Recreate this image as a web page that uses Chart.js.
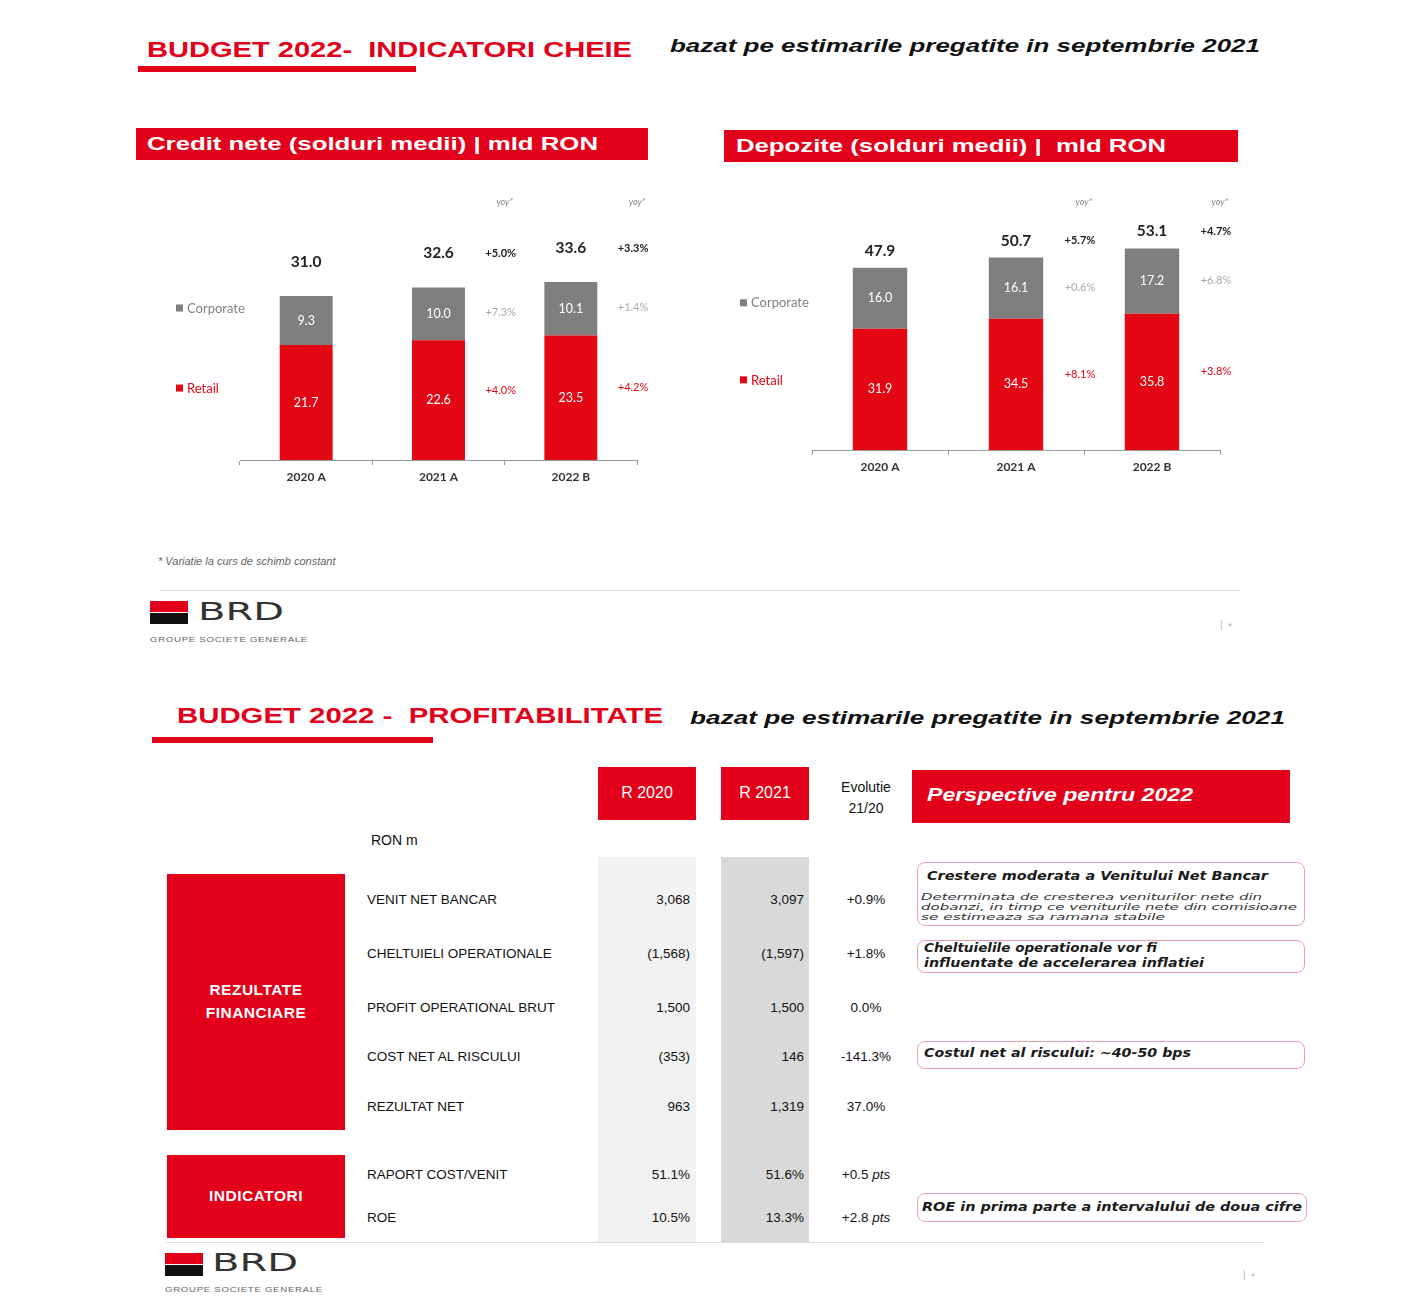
<!DOCTYPE html>
<html lang="ro">
<head>
<meta charset="UTF-8">
<title>Budget 2022 - BRD</title>
<style>
    body {
        margin: 0;
        width: 1410px;
        height: 1308px;
        position: relative;
        overflow: hidden;
        background: #fff;
        font-family: 'Liberation Sans', Arial, sans-serif;
    }
    .t {
        position: absolute;
        white-space: nowrap;
        line-height: 20px;
        height: 20px;
    }
    .title {
        color: #e2001a;
        font-weight: bold;
        font-size: 22px;
    }
    .subtitle {
        color: #111;
        font-weight: bold;
        font-style: italic;
        font-size: 19px;
    }
    .bar {
        position: absolute;
        background: #e2001a;
    }
    .hbox-text {
        color: #fff;
        font-weight: bold;
        font-size: 19px;
    }
    .line {
        position: absolute;
        height: 1px;
        background: #ddd;
    }
    .logo {
        position: absolute;
        width: 38px;
        height: 23px;
        background: linear-gradient(#e2001a 0 46%, #fff 46% 54%, #111 54% 100%);
    }
    .brd {
        color: #333;
        font-family: 'DejaVu Sans', sans-serif;
        font-size: 25px;
        line-height: 28px;
        height: 28px;
    }
    .sg {
        color: #666;
        font-size: 7px;
        line-height: 10px;
        height: 10px;
        letter-spacing: 0.5px;
    }
    .pg {
        color: #bbb;
        font-size: 10px;
    }
    canvas {
        position: absolute;
    }
    .col {
        position: absolute;
    }
    .rowlabel {
        color: #111;
        font-size: 13.5px;
        left: 367px;
    }
    .num {
        color: #111;
        font-size: 13.5px;
        text-align: right;
    }
    .evo {
        color: #111;
        font-size: 13.5px;
        text-align: center;
        width: 90px;
        left: 821px;
    }
    .box {
        position: absolute;
        border: 1px solid #e9a0a8;
        border-radius: 8px;
        box-sizing: border-box;
        background: #fff;
    }
    .pbold {
        font-family: 'DejaVu Sans', sans-serif;
        font-weight: bold;
        font-style: italic;
        font-size: 11.5px;
        color: #1a1a1a;
    }
    .pnorm {
        font-family: 'DejaVu Sans', sans-serif;
        font-style: italic;
        font-size: 9.5px;
        color: #333;
        line-height: 10px;
        height: 10px;
    }
</style>
</head>
<body>
    <!-- slide 1 -->
    <div class="t title" style="left:147px; top:40px;" data-w="485">BUDGET 2022-&nbsp; INDICATORI CHEIE</div>
    <div class="bar" style="left:138px; top:66px; width:278px; height:6px;"></div>
    <div class="t subtitle" style="left:670px; top:36px;" data-w="590">bazat pe estimarile pregatite in septembrie 2021</div>

    <div class="bar" style="left:136px; top:128px; width:512px; height:32px;"></div>
    <div class="t hbox-text" style="left:147px; top:134px;" data-w="451">Credit nete (solduri medii) | mld RON</div>
    <div class="bar" style="left:724px; top:130px; width:514px; height:32px;"></div>
    <div class="t hbox-text" style="left:736px; top:136px;" data-w="430">Depozite (solduri medii) |&nbsp; mld RON</div>

    <canvas id="creditChart" width="500" height="300" style="left:160px; top:190px;"></canvas>
    <canvas id="depositChart" width="520" height="300" style="left:730px; top:180px;"></canvas>

    <div class="t" style="left:158px; top:551px; font-size:11px; font-style:italic; color:#666;">* Variatie la curs de schimb constant</div>
    <div class="line" style="left:160px; top:590px; width:1080px;"></div>
    <div class="logo" style="left:150px; top:601px;"></div>
    <div class="t brd" style="left:198px; top:598px;" data-w="86">BRD</div>
    <div class="t sg" style="left:150px; top:635px;" data-w="158">GROUPE SOCIETE GENERALE</div>
    <div class="t pg" style="left:1220px; top:615px;">|&nbsp; ▪</div>

    <!-- slide 2 -->
    <div class="t title" style="left:177px; top:706px;" data-w="486">BUDGET 2022 -&nbsp; PROFITABILITATE</div>
    <div class="bar" style="left:152px; top:737px; width:281px; height:6px;"></div>
    <div class="t subtitle" style="left:690px; top:708px;" data-w="595">bazat pe estimarile pregatite in septembrie 2021</div>

    <div class="col" style="left:598px; top:857px; width:98px; height:385px; background:#f2f2f2;"></div>
    <div class="col" style="left:721px; top:857px; width:88px; height:385px; background:#d9d9d9;"></div>

    <div class="bar" style="left:598px; top:767px; width:98px; height:53px;"></div>
    <div class="t" style="left:598px; top:783px; width:98px; text-align:center; color:#fff; font-size:16px;">R 2020</div>
    <div class="bar" style="left:721px; top:767px; width:88px; height:53px;"></div>
    <div class="t" style="left:721px; top:783px; width:88px; text-align:center; color:#fff; font-size:16px;">R 2021</div>
    <div class="t" style="left:821px; top:777px; width:90px; text-align:center; color:#111; font-size:14px;">Evolutie</div>
    <div class="t" style="left:821px; top:798px; width:90px; text-align:center; color:#111; font-size:14px;">21/20</div>
    <div class="bar" style="left:912px; top:770px; width:378px; height:53px;"></div>
    <div class="t" style="left:927px; top:785px; color:#fff; font-weight:bold; font-style:italic; font-size:19px;" data-w="266">Perspective pentru 2022</div>

    <div class="t" style="left:371px; top:830px; color:#111; font-size:14px;">RON m</div>

    <div class="bar" style="left:167px; top:874px; width:178px; height:256px;"></div>
    <div class="t" style="left:167px; top:980px; width:178px; text-align:center; color:#fff; font-weight:bold; font-size:15.5px; letter-spacing:0.5px;">REZULTATE</div>
    <div class="t" style="left:167px; top:1003px; width:178px; text-align:center; color:#fff; font-weight:bold; font-size:15.5px; letter-spacing:0.5px;">FINANCIARE</div>
    <div class="bar" style="left:167px; top:1155px; width:178px; height:83px;"></div>
    <div class="t" style="left:167px; top:1186px; width:178px; text-align:center; color:#fff; font-weight:bold; font-size:15.5px; letter-spacing:0.5px;">INDICATORI</div>

    <div id="rows"></div>

    <div class="box" style="left:917px; top:862px; width:388px; height:64px;"></div>
    <div class="t pbold" style="left:927px; top:866px;" data-w="341">Crestere moderata a Venitului Net Bancar</div>
    <div class="t pnorm" style="left:921px; top:892px;" data-w="341">Determinata de cresterea veniturilor nete din</div>
    <div class="t pnorm" style="left:921px; top:902px;" data-w="376">dobanzi, in timp ce veniturile nete din comisioane</div>
    <div class="t pnorm" style="left:921px; top:912px;" data-w="244">se estimeaza sa ramana stabile</div>

    <div class="box" style="left:917px; top:940px; width:388px; height:33px;"></div>
    <div class="t pbold" style="left:924px; top:938px;" data-w="233">Cheltuielile operationale vor fi</div>
    <div class="t pbold" style="left:924px; top:953px;" data-w="280">influentate de accelerarea inflatiei</div>

    <div class="box" style="left:917px; top:1041px; width:388px; height:28px;"></div>
    <div class="t pbold" style="left:924px; top:1043px;" data-w="267">Costul net al riscului: ~40-50 bps</div>

    <div class="box" style="left:917px; top:1193px; width:390px; height:29px;"></div>
    <div class="t pbold" style="left:922px; top:1197px;" data-w="380">ROE in prima parte a intervalului de doua cifre</div>

    <div class="line" style="left:166px; top:1242px; width:1099px;"></div>
    <div class="logo" style="left:165px; top:1253px;"></div>
    <div class="t brd" style="left:212px; top:1249px;" data-w="86">BRD</div>
    <div class="t sg" style="left:165px; top:1285px;" data-w="158">GROUPE SOCIETE GENERALE</div>
    <div class="t pg" style="left:1243px; top:1265px;">|&nbsp; ▪</div>

    <script src="https://cdn.jsdelivr.net/npm/chart.js"></script>
    <script>
        // --- date grafic ---
        const categories = ['2020 A', '2021 A', '2022 B'];

        const creditRetail = [21.7, 22.6, 23.5];
        const creditCorporate = [9.3, 10.0, 10.1];
        const creditTotal = [31.0, 32.6, 33.6];
        const creditGrowthTotal = [null, '+5.0%', '+3.3%'];
        const creditGrowthCorporate = [null, '+7.3%', '+1.4%'];
        const creditGrowthRetail = [null, '+4.0%', '+4.2%'];

        const depositRetail = [31.9, 34.5, 35.8];
        const depositCorporate = [16.0, 16.1, 17.2];
        const depositTotal = [47.9, 50.7, 53.1];
        const depositGrowthTotal = [null, '+5.7%', '+4.7%'];
        const depositGrowthCorporate = [null, '+0.6%', '+6.8%'];
        const depositGrowthRetail = [null, '+8.1%', '+3.8%'];

        // --- date tabel ---
        const rowLabels = ['VENIT NET BANCAR', 'CHELTUIELI OPERATIONALE', 'PROFIT OPERATIONAL BRUT', 'COST NET AL RISCULUI', 'REZULTAT NET', 'RAPORT COST/VENIT', 'ROE'];
        const r2020 = ['3,068', '(1,568)', '1,500', '(353)', '963', '51.1%', '10.5%'];
        const r2021 = ['3,097', '(1,597)', '1,500', '146', '1,319', '51.6%', '13.3%'];
        const evolution = ['+0.9%', '+1.8%', '0.0%', '-141.3%', '37.0%', '+0.5 pts', '+2.8 pts'];

        const RED = '#e30613';
        const GREY = '#7f7f7f';

        const barLabels = {
            id: 'barLabels',
            afterDatasetsDraw(chart, args, o) {
                const ctx = chart.ctx;
                const xs = chart.scales.x;
                const step = xs.getPixelForValue(1) - xs.getPixelForValue(0);
                const rMeta = chart.getDatasetMeta(0);
                const cMeta = chart.getDatasetMeta(1);
                ctx.save();
                ctx.textAlign = 'center';
                ctx.textBaseline = 'middle';
                rMeta.data.forEach((r, i) => {
                    const c = cMeta.data[i];
                    ctx.fillStyle = '#fff';
                    ctx.font = '12.5px Lato';
                    ctx.fillText(o.retail[i].toFixed(1), r.x, (r.y + r.base) / 2);
                    ctx.fillText(o.corp[i].toFixed(1), c.x, (c.y + c.base) / 2);

                    const ty = c.y - o.totalGap;
                    ctx.fillStyle = '#222';
                    ctx.font = 'bold 15.5px Lato';
                    ctx.fillText(o.total[i].toFixed(1), r.x, ty);

                    if (o.gTotal[i]) {
                        const gx = r.x + step * 0.47;
                        ctx.font = 'bold 11px Lato';
                        ctx.fillStyle = '#222';
                        ctx.fillText(o.gTotal[i], gx, ty);
                        ctx.font = '11px Lato';
                        ctx.fillStyle = '#aaa';
                        ctx.fillText(o.gCorp[i], gx, (c.y + c.base) / 2 - 1);
                        ctx.fillStyle = RED;
                        ctx.fillText(o.gRet[i], gx, (r.y + r.base) / 2 - 10);
                        ctx.font = 'italic 9px Lato';
                        ctx.fillStyle = '#888';
                        ctx.fillText('yoy*', gx + 4, o.yoyY);
                    }
                });

                // legenda din stanga
                const r0 = rMeta.data[0], c0 = cMeta.data[0];
                ctx.textAlign = 'left';
                ctx.font = '13px Lato';
                ctx.fillStyle = GREY;
                let ly = (c0.y + c0.base) / 2 + o.legendDy[0];
                ctx.fillRect(o.legendX, ly - 4, 7, 7);
                ctx.fillText('Corporate', o.legendX + 11, ly);
                ly = (r0.y + r0.base) / 2 + o.legendDy[1];
                ctx.fillStyle = RED;
                ctx.fillRect(o.legendX, ly - 4, 7, 7);
                ctx.fillText('Retail', o.legendX + 11, ly);
                ctx.restore();
            }
        };

        function makeChart(id, retail, corp, total, gTotal, gCorp, gRet, opt) {
            return new Chart(document.getElementById(id), {
                type: 'bar',
                data: {
                    labels: categories,
                    datasets: [
                        { label: 'Retail', data: retail, backgroundColor: RED },
                        { label: 'Corporate', data: corp, backgroundColor: GREY }
                    ]
                },
                options: {
                    responsive: false,
                    animation: false,
                    datasets: { bar: { categoryPercentage: 1, barPercentage: 0.4 } },
                    layout: { padding: { left: opt.padL, right: opt.padR, top: 0, bottom: 0 } },
                    plugins: {
                        legend: { display: false },
                        tooltip: { enabled: false },
                        barLabels: {
                            retail: retail, corp: corp, total: total,
                            gTotal: gTotal, gCorp: gCorp, gRet: gRet,
                            totalGap: opt.totalGap, yoyY: opt.yoyY,
                            legendX: opt.legendX, legendDy: opt.legendDy
                        }
                    },
                    scales: {
                        x: {
                            stacked: true,
                            grid: { drawOnChartArea: false, color: '#999', tickLength: 5, offset: true },
                            border: { color: '#999' },
                            ticks: { color: '#333', font: { family: 'Lato', weight: 'bold', size: 12 }, padding: 5 },
                            afterFit(s) { s.height = 30; }
                        },
                        y: { stacked: true, display: false, min: 0, max: opt.max }
                    }
                },
                plugins: [barLabels]
            });
        }

        makeChart('creditChart', creditRetail, creditCorporate, creditTotal,
            creditGrowthTotal, creditGrowthCorporate, creditGrowthRetail,
            { padL: 80, padR: 23, max: 51, totalGap: 34, yoyY: 12, legendX: 16, legendDy: [-12, -14] });

        makeChart('depositChart', depositRetail, depositCorporate, depositTotal,
            depositGrowthTotal, depositGrowthCorporate, depositGrowthRetail,
            { padL: 82, padR: 30, max: 71, totalGap: 17, yoyY: 22, legendX: 10, legendDy: [5, -9] });

        // randuri tabel
        const rowY = [900, 954, 1008, 1057, 1107, 1175, 1218];
        const rows = document.getElementById('rows');
        rowLabels.forEach((lab, i) => {
            const top = rowY[i] - 10;
            const ev = evolution[i].replace(' pts', ' <i>pts</i>');
            rows.insertAdjacentHTML('beforeend',
                `<div class="t rowlabel" style="top:${top}px">${lab}</div>
                 <div class="t num" style="top:${top}px; left:600px; width:90px">${r2020[i]}</div>
                 <div class="t num" style="top:${top}px; left:714px; width:90px">${r2021[i]}</div>
                 <div class="t evo" style="top:${top}px">${ev}</div>`);
        });

        // potrivire latime texte
        document.querySelectorAll('[data-w]').forEach(el => {
            const w = el.getBoundingClientRect().width;
            el.style.transformOrigin = 'left center';
            el.style.transform = `scaleX(${el.dataset.w / w})`;
        });
    </script>
</body>
</html>
